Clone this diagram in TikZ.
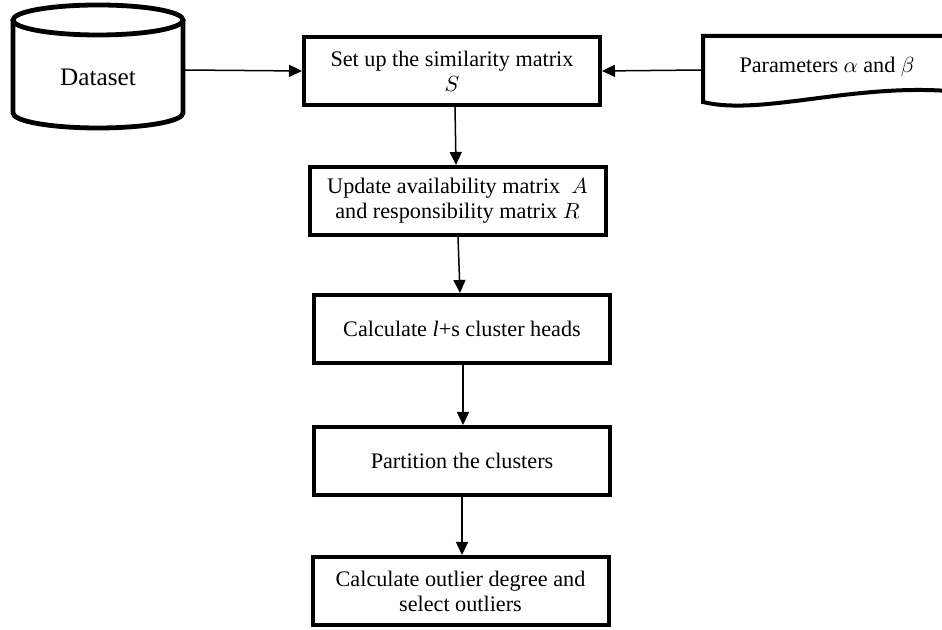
\documentclass[tikz,border=0pt]{standalone}
\usepackage{amsmath}
\usepackage{fontspec}
\setmainfont{Liberation Serif}
\usepackage{tikz}
\usetikzlibrary{arrows.meta}

\tikzset{
    procbox/.style={draw, line width=2pt, minimum width=148pt, minimum height=34pt,
        align=center, inner sep=2pt, font=\fontsize{11.1}{12.5}\selectfont},
    flowarr/.style={-{Triangle[length=6.5pt,width=6pt]}, line width=0.75pt},
    lbl/.style={font=\fontsize{11.1}{12.5}\selectfont, align=center}
}

\begin{document}
\begin{tikzpicture}[x=0.5pt,y=0.5pt]
                    \clip (0,0) rectangle (942,630);

                    % dataset cylinder
                    \draw[line width=2.4pt] (98,610) ellipse [x radius=85, y radius=15];
                    \draw[line width=2.4pt] (13,610) -- (13,517) arc [start angle=180, end angle=360, x radius=85, y radius=15] -- (183,610);
                    \node[lbl, font=\fontsize{12.6}{14}\selectfont] (datalbl) at (98,553) {Dataset};
                    \node[minimum width=85pt, minimum height=20pt, inner sep=0pt] (data) at (98,560) {};

                    % parameters (document shape)
                    \draw[line width=2pt] (948,594) -- (703,594) -- (703,528)
                        .. controls (760,514) and (850,546) .. (948,539);
                    \node[lbl] (param) at (827,563) {Parameters $\alpha$ and $\beta$};
                    \coordinate (paramin) at (703,560);

                    % process steps
                    \node[procbox] (setup) at (452,559) {Set up the similarity matrix\\ $S$};
                    \node[procbox] (update) at (457.5,429) {Update availability matrix \ $A$\\ and responsibility matrix $R$};
                    \node[procbox] (heads) at (462,301) {Calculate \textit{l}+s cluster heads};
                    \node[procbox] (part) at (462,169) {Partition the clusters};
                    \node[procbox] (outl) at (460.5,39) {Calculate outlier degree and\\ select outliers};

                    \draw[flowarr] (data.east) -- (setup.west);
                    \draw[flowarr] (paramin) -- (setup.east);
                    \draw[flowarr] (setup.south -| 455,0) -- (update.north -| 456,0);
                    \draw[flowarr] (update.south -| 458,0) -- (heads.north -| 460,0);
                    \draw[flowarr] (heads.south -| 463,0) -- (part.north -| 463,0);
                    \draw[flowarr] (part.south -| 462,0) -- (outl.north -| 462,0);
                \end{tikzpicture}
\end{document}
